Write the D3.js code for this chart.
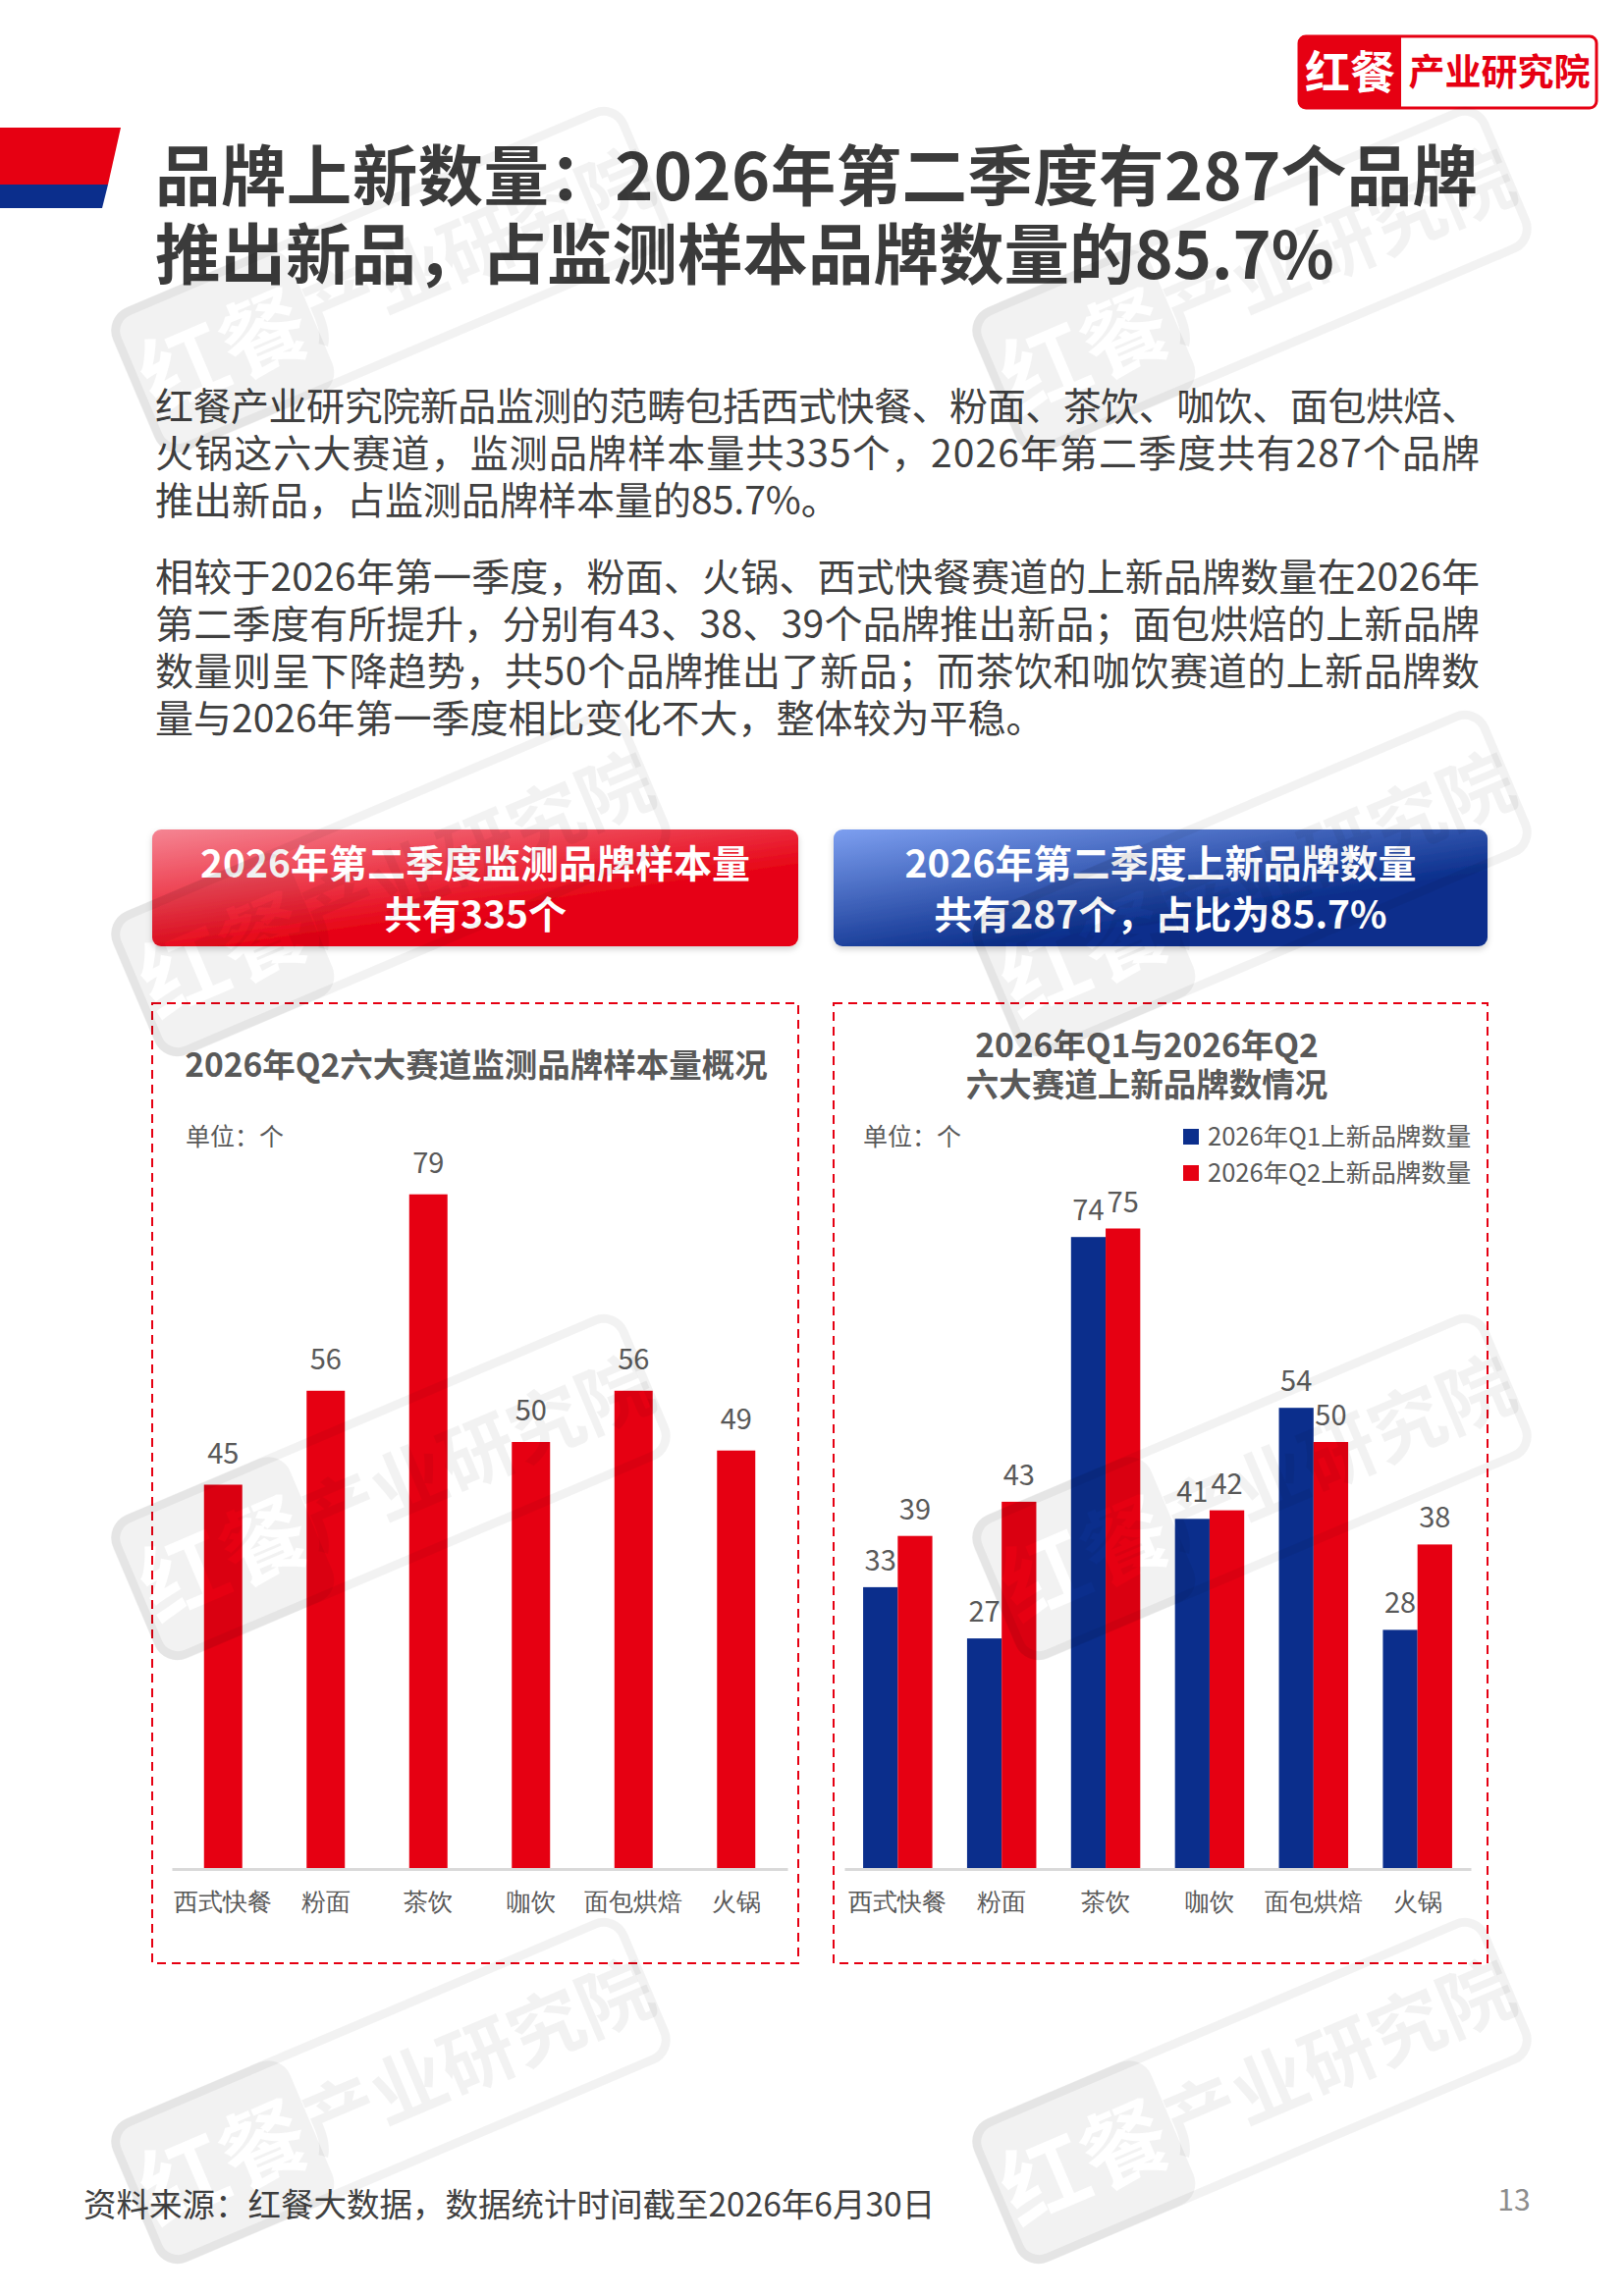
<!DOCTYPE html>
<html>
<head>
<meta charset="utf-8">
<script src="https://cdn.jsdelivr.net/npm/d3@7"></script>
<style>
  body { margin: 0; background: #fff; }
  svg { display: block; font-family: "Noto Sans CJK SC", "Noto Sans", sans-serif; }
</style>
</head>
<body>
<div class="page"></div>
<script>
// data
let categories = ["西式快餐", "粉面", "茶饮", "咖饮", "面包烘焙", "火锅"];
let sampleQ2 = [45, 56, 79, 50, 56, 49];
let newQ1 = [33, 27, 74, 41, 54, 28];
let newQ2 = [39, 43, 75, 42, 50, 38];
let seriesNames = ["2026年Q1上新品牌数量", "2026年Q2上新品牌数量"];

let titleLines = ["品牌上新数量：2026年第二季度有287个品牌", "推出新品，占监测样本品牌数量的85.7%"];
let para1 = [
    "红餐产业研究院新品监测的范畴包括西式快餐、粉面、茶饮、咖饮、面包烘焙、",
    "火锅这六大赛道，监测品牌样本量共335个，2026年第二季度共有287个品牌",
    "推出新品，占监测品牌样本量的85.7%。"
];
let para2 = [
    "相较于2026年第一季度，粉面、火锅、西式快餐赛道的上新品牌数量在2026年",
    "第二季度有所提升，分别有43、38、39个品牌推出新品；面包烘焙的上新品牌",
    "数量则呈下降趋势，共50个品牌推出了新品；而茶饮和咖饮赛道的上新品牌数",
    "量与2026年第一季度相比变化不大，整体较为平稳。"
];

let width = 1654, height = 2339;
let red = "#e60012", blue = "#0b2e8c";

let svg = d3.select(".page")
    .append("svg")
    .attr("width", width)
    .attr("height", height);

let defs = svg.append("defs");
let redGrad = defs.append("linearGradient").attr("id", "redGrad")
    .attr("x1", 0).attr("y1", 0).attr("x2", 0.55).attr("y2", 0.7);
redGrad.append("stop").attr("offset", 0).attr("stop-color", "#f58593");
redGrad.append("stop").attr("offset", 1).attr("stop-color", red);
let blueGrad = defs.append("linearGradient").attr("id", "blueGrad")
    .attr("x1", 0).attr("y1", 0).attr("x2", 0.6).attr("y2", 0.7);
blueGrad.append("stop").attr("offset", 0).attr("stop-color", "#7d9ff0");
blueGrad.append("stop").attr("offset", 1).attr("stop-color", "#0b2f8c");
let shadow = defs.append("filter").attr("id", "shadow")
    .attr("x", "-5%").attr("y", "-10%").attr("width", "110%").attr("height", "130%");
shadow.append("feDropShadow").attr("dx", 0).attr("dy", 3).attr("stdDeviation", 3)
    .attr("flood-color", "#000").attr("flood-opacity", 0.18);

// knock-out mask for the watermark badge
let wmMask = defs.append("mask").attr("id", "wmMask").attr("maskUnits", "userSpaceOnUse")
    .attr("x", -300).attr("y", -100).attr("width", 600).attr("height", 200);
wmMask.append("rect").attr("x", -300).attr("y", -100).attr("width", 600).attr("height", 200).attr("fill", "#fff");
wmMask.append("text").attr("x", -185).attr("y", 33).attr("text-anchor", "middle")
    .attr("font-size", 88).attr("font-weight", 700).attr("fill", "#000").text("红餐");

// header logo
svg.append("rect").attr("x", 1323).attr("y", 37).attr("width", 303).attr("height", 73)
    .attr("rx", 7).attr("fill", "#fff").attr("stroke", red).attr("stroke-width", 3);
svg.append("path").attr("d", "M1330,37 H1427 V110 H1330 Q1323,110 1323,103 V44 Q1323,37 1330,37 Z").attr("fill", red);
svg.append("text").attr("x", 1375).attr("y", 90).attr("text-anchor", "middle")
    .attr("font-size", 46).attr("font-weight", 700).attr("fill", "#fff").text("红餐");
svg.append("text").attr("x", 1527).attr("y", 87).attr("text-anchor", "middle")
    .attr("font-size", 37).attr("font-weight", 700).attr("fill", red).text("产业研究院");

// title decoration
svg.append("polygon").attr("points", "0,130 123,130 110,188 0,188").attr("fill", red);
svg.append("polygon").attr("points", "0,188 110,188 104,212 0,212").attr("fill", blue);

// title
svg.selectAll(".title").data(titleLines).enter().append("text")
    .attr("x", 158)
    .attr("y", (d, i) => 204 + i * 80)
    .attr("font-size", 66.5).attr("font-weight", 700).attr("fill", "#3b3b3b")
    .each(function(d, i) { if (i === 0) d3.select(this).attr("textLength", 1347).attr("lengthAdjust", "spacing"); })
    .text(d => d);

// paragraphs
let drawPara = (lines, y0) => {
    svg.append("g").selectAll("text").data(lines).enter().append("text")
        .attr("x", 158)
        .attr("y", (d, i) => y0 + i * 48)
        .attr("font-size", 39).attr("fill", "#404040")
        .each(function(d, i) { if (i < lines.length - 1) d3.select(this).attr("textLength", 1349).attr("lengthAdjust", "spacing"); })
        .text(d => d);
};
drawPara(para1, 428);
drawPara(para2, 602);

// banners
let banner = (x, w, fill, lines) => {
    svg.append("rect").attr("x", x).attr("y", 845).attr("width", w).attr("height", 119)
        .attr("rx", 9).attr("fill", fill).attr("filter", "url(#shadow)");
    svg.append("g").selectAll("text").data(lines).enter().append("text")
        .attr("x", x + w / 2).attr("y", (d, i) => 894 + i * 52)
        .attr("text-anchor", "middle").attr("font-size", 39).attr("font-weight", 700)
        .attr("fill", "#fff").text(d => d);
};
banner(155, 658, "url(#redGrad)", ["2026年第二季度监测品牌样本量", "共有335个"]);
banner(849, 666, "url(#blueGrad)", ["2026年第二季度上新品牌数量", "共有287个，占比为85.7%"]);

// dashed frames
[[155, 658], [849, 666]].forEach(b => {
    svg.append("rect").attr("x", b[0]).attr("y", 1022).attr("width", b[1]).attr("height", 978)
        .attr("fill", "none").attr("stroke", red).attr("stroke-width", 2).attr("stroke-dasharray", "9,6");
});

let yScale = d3.scaleLinear().domain([0, 90]).range([1904, 1121]);

let styleAxis = g => {
    g.select(".domain").attr("stroke", "#d9d9d9").attr("stroke-width", 3);
    g.selectAll("text").attr("font-size", 25).attr("fill", "#595959").attr("font-family", null);
};

// left chart
svg.append("text").attr("x", 485).attr("y", 1097).attr("text-anchor", "middle")
    .attr("font-size", 33.5).attr("font-weight", 700).attr("fill", "#595959")
    .text("2026年Q2六大赛道监测品牌样本量概况");
svg.append("text").attr("x", 189).attr("y", 1167).attr("font-size", 25).attr("fill", "#595959").text("单位：个");

let xLeft = d3.scaleBand().domain(categories).range([175, 802]).paddingInner(0.627).paddingOuter(0.3135);

svg.append("g").selectAll("rect").data(sampleQ2).enter().append("rect")
    .attr("x", (d, i) => xLeft(categories[i]))
    .attr("y", d => yScale(d))
    .attr("width", xLeft.bandwidth())
    .attr("height", d => yScale(0) - yScale(d))
    .attr("fill", red);
svg.append("g").selectAll("text").data(sampleQ2).enter().append("text")
    .attr("x", (d, i) => xLeft(categories[i]) + xLeft.bandwidth() / 2)
    .attr("y", d => yScale(d) - 22)
    .attr("text-anchor", "middle").attr("font-size", 29).attr("fill", "#595959")
    .text(d => d);
svg.append("g").attr("transform", "translate(0," + yScale(0) + ")")
    .call(d3.axisBottom(xLeft).tickSize(0).tickSizeOuter(0).tickPadding(24))
    .call(styleAxis);

// right chart
svg.append("g").selectAll("text").data(["2026年Q1与2026年Q2", "六大赛道上新品牌数情况"]).enter().append("text")
    .attr("x", 1168).attr("y", (d, i) => 1077 + i * 40).attr("text-anchor", "middle")
    .attr("font-size", 33.5).attr("font-weight", 700).attr("fill", "#595959").text(d => d);
svg.append("text").attr("x", 879).attr("y", 1167).attr("font-size", 25).attr("fill", "#595959").text("单位：个");

let colors = d3.scaleOrdinal().domain(seriesNames).range([blue, red]);
let legend = svg.append("g").selectAll("g").data(seriesNames).enter().append("g")
    .attr("transform", (d, i) => "translate(1205," + (1150 + i * 37) + ")");
legend.append("rect").attr("width", 16).attr("height", 16).attr("fill", d => colors(d));
legend.append("text").attr("x", 25).attr("y", 17).attr("font-size", 25.5).attr("fill", "#595959").text(d => d);

let xRight = d3.scaleBand().domain(categories).range([860, 1498]).paddingInner(0.334).paddingOuter(0.18);
let xSub = d3.scaleBand().domain(seriesNames).range([0, xRight.bandwidth()]);
let rows = categories.map((c, i) => ({ cat: c, vals: [newQ1[i], newQ2[i]] }));

let groups = svg.append("g").selectAll("g").data(rows).enter().append("g")
    .attr("transform", d => "translate(" + xRight(d.cat) + ",0)");
groups.selectAll("rect").data(d => d.vals.map((v, j) => ({ s: seriesNames[j], v: v }))).enter().append("rect")
    .attr("x", d => xSub(d.s))
    .attr("y", d => yScale(d.v))
    .attr("width", xSub.bandwidth())
    .attr("height", d => yScale(0) - yScale(d.v))
    .attr("fill", d => colors(d.s));
groups.selectAll("text").data(d => d.vals.map((v, j) => ({ s: seriesNames[j], v: v }))).enter().append("text")
    .attr("x", d => xSub(d.s) + xSub.bandwidth() / 2)
    .attr("y", d => yScale(d.v) - 17)
    .attr("text-anchor", "middle").attr("font-size", 29).attr("fill", "#595959")
    .text(d => d.v);
svg.append("g").attr("transform", "translate(0," + yScale(0) + ")")
    .call(d3.axisBottom(xRight).tickSize(0).tickSizeOuter(0).tickPadding(24))
    .call(styleAxis);

// footer
svg.append("text").attr("x", 85).attr("y", 2258).attr("font-size", 33.5).attr("fill", "#404040")
    .text("资料来源：红餐大数据，数据统计时间截至2026年6月30日");
svg.append("text").attr("x", 1542).attr("y", 2252).attr("text-anchor", "middle")
    .attr("font-size", 30).attr("fill", "#8c8c8c").text("13");

// watermarks
let marks = [[398, 285], [1275, 285], [398, 900], [1275, 900], [398, 1515], [1275, 1515], [398, 2130], [1275, 2130]];
marks.forEach(m => {
    let g = svg.append("g").attr("transform", "translate(" + m[0] + "," + m[1] + ") rotate(-23)")
        .attr("pointer-events", "none");
    g.append("rect").attr("x", -280).attr("y", -75).attr("width", 560).attr("height", 150).attr("rx", 22)
        .attr("fill", "none").attr("stroke", "#000").attr("stroke-opacity", 0.05).attr("stroke-width", 9);
    g.append("rect").attr("x", -284).attr("y", -79).attr("width", 196).attr("height", 158).attr("rx", 24)
        .attr("fill", "#000").attr("fill-opacity", 0.05).attr("mask", "url(#wmMask)");
    g.append("text").attr("x", 95).attr("y", 30).attr("text-anchor", "middle")
        .attr("font-size", 76).attr("font-weight", 700).attr("fill", "#000").attr("fill-opacity", 0.05).text("产业研究院");
});
</script>
</body>
</html>
